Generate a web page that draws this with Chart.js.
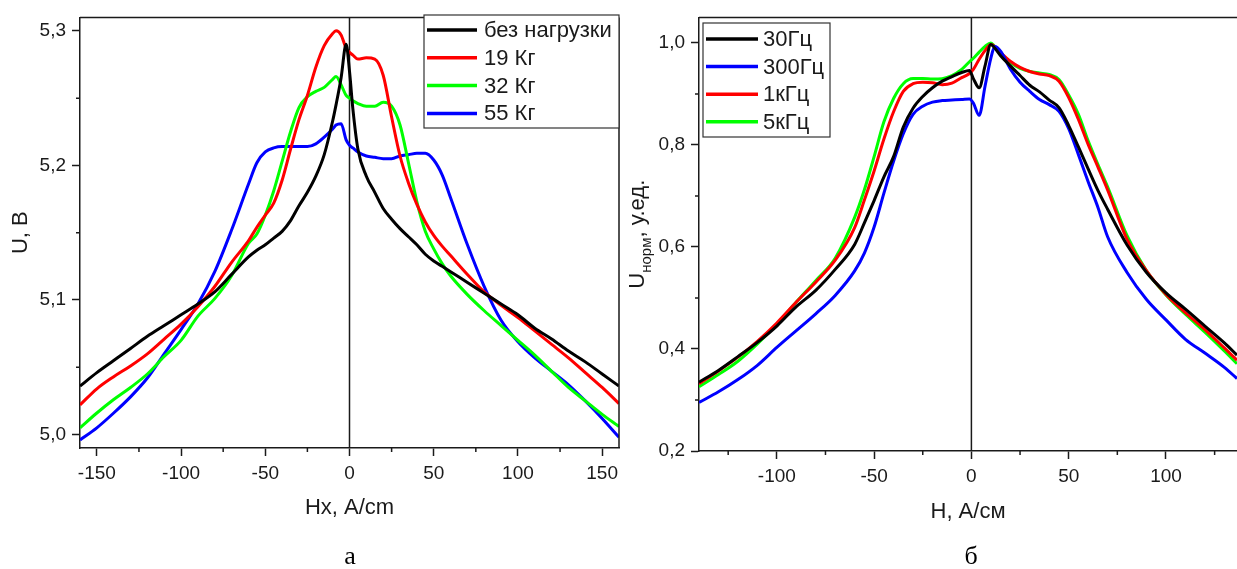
<!DOCTYPE html>
<html>
<head>
<meta charset="utf-8">
<script src="https://cdn.jsdelivr.net/npm/chart.js@4.4.1/dist/chart.umd.min.js"></script>
<style>
  html, body { margin: 0; padding: 0; background: #fff; }
  body { width: 1237px; height: 569px; position: relative; overflow: hidden; }
  .panel { position: absolute; top: 0; }
  #left { left: 0; }
  #right { left: 620px; }
  .caption { position: absolute; font-family: "Liberation Serif", "Times New Roman", serif; font-size: 26px; color: #000; transform: translate(-50%, -50%); }
</style>
</head>
<body>
<div class="panel" id="left"><canvas id="chartA" width="640" height="569"></canvas></div>
<div class="panel" id="right"><canvas id="chartB" width="617" height="569"></canvas></div>
<div class="caption" style="left:350px; top:556px;">а</div>
<div class="caption" style="left:971px; top:556px;">б</div>
<script>
// --- панель а: U(Hx) при разной нагрузке ---
const hxLoad = [-160, -150, -140, -130, -120, -110, -100, -90, -80, -70, -60,
  -55, -50, -45, -40, -35, -30, -25, -20, -15, -10,
  -8, -5, -2, 0, 2,
  5, 10, 15, 20, 25, 30, 35, 40, 45, 50, 55, 60,
  70, 80, 90, 100, 110, 120, 130, 140, 150, 160];
const loadLabels = ['без нагрузки', '19 Кг', '32 Кг', '55 Кг'];
const uNoLoad = [5.036, 5.046, 5.055, 5.064, 5.073, 5.081, 5.089, 5.097, 5.106, 5.119, 5.132,
  5.137, 5.141, 5.146, 5.151, 5.159, 5.170, 5.180, 5.192, 5.208, 5.233,
  5.245, 5.265, 5.290, 5.270, 5.242,
  5.212, 5.192, 5.180, 5.168, 5.160, 5.153, 5.147, 5.141, 5.134, 5.129, 5.125, 5.121,
  5.113, 5.105, 5.097, 5.089, 5.079, 5.071, 5.062, 5.054, 5.045, 5.036];
const u19 = [5.022, 5.034, 5.043, 5.051, 5.060, 5.071, 5.082, 5.095, 5.110, 5.128, 5.144,
  5.154, 5.163, 5.172, 5.189, 5.212, 5.234, 5.252, 5.273, 5.289, 5.298,
  5.300, 5.297, 5.287, 5.284, 5.282,
  5.279, 5.280, 5.279, 5.267, 5.236, 5.207, 5.187, 5.171, 5.158, 5.148, 5.140, 5.133,
  5.119, 5.106, 5.096, 5.087, 5.077, 5.067, 5.057, 5.046, 5.035, 5.023];
const u32 = [5.005, 5.016, 5.026, 5.035, 5.045, 5.058, 5.070, 5.088, 5.101, 5.118, 5.142,
  5.149, 5.163, 5.181, 5.203, 5.225, 5.243, 5.251, 5.255, 5.258, 5.264,
  5.266, 5.260, 5.252, 5.250, 5.248,
  5.246, 5.244, 5.244, 5.247, 5.244, 5.230, 5.202, 5.173, 5.151, 5.138, 5.127, 5.118,
  5.104, 5.092, 5.081, 5.070, 5.059, 5.047, 5.035, 5.025, 5.015, 5.006];
const u55 = [4.996, 5.005, 5.016, 5.028, 5.042, 5.060, 5.078, 5.097, 5.121, 5.152, 5.186,
  5.202, 5.210, 5.213, 5.214, 5.214, 5.214, 5.214, 5.216, 5.221, 5.227,
  5.230, 5.231, 5.219, 5.215, 5.213,
  5.210, 5.207, 5.206, 5.205, 5.205, 5.207, 5.208, 5.209, 5.209, 5.204, 5.193, 5.176,
  5.141, 5.110, 5.085, 5.069, 5.057, 5.047, 5.037, 5.025, 5.012, 4.998];

// --- панель б: нормированный сигнал при разной частоте ---
const hFreq = [-140, -130, -120, -110, -100, -90, -80, -70, -60,
  -55, -50, -45, -40, -35, -30, -25, -20, -15, -10, -5,
  -1, 1, 4, 7, 10, 12, 15,
  20, 25, 30, 35, 40, 45, 50, 55, 60, 65, 70,
  80, 90, 100, 110, 120, 130, 136.5];
const freqLabels = ['30Гц', '300Гц', '1кГц', '5кГц'];
const u30Hz = [0.335, 0.358, 0.385, 0.413, 0.445, 0.483, 0.515, 0.556, 0.605,
  0.647, 0.691, 0.737, 0.777, 0.835, 0.872, 0.895, 0.912, 0.925, 0.934, 0.942,
  0.946, 0.930, 0.912, 0.955, 0.997, 0.990, 0.975,
  0.955, 0.936, 0.917, 0.904, 0.888, 0.873, 0.838, 0.796, 0.753, 0.711, 0.674,
  0.604, 0.550, 0.510, 0.478, 0.445, 0.412, 0.388];
const u300Hz = [0.295, 0.316, 0.340, 0.368, 0.403, 0.436, 0.469, 0.505, 0.553,
  0.588, 0.639, 0.705, 0.768, 0.822, 0.860, 0.876, 0.884, 0.887, 0.888, 0.889,
  0.890, 0.882, 0.858, 0.915, 0.970, 0.993, 0.984,
  0.949, 0.923, 0.905, 0.889, 0.879, 0.866, 0.832, 0.781, 0.728, 0.678, 0.620,
  0.550, 0.497, 0.457, 0.419, 0.392, 0.364, 0.342];
const u1kHz = [0.332, 0.357, 0.384, 0.415, 0.451, 0.492, 0.531, 0.574, 0.638,
  0.692, 0.749, 0.811, 0.865, 0.905, 0.920, 0.923, 0.922, 0.918, 0.921, 0.932,
  0.940, 0.948, 0.968, 0.985, 0.997, 0.993, 0.981,
  0.964, 0.952, 0.944, 0.939, 0.936, 0.925, 0.893, 0.850, 0.801, 0.757, 0.712,
  0.615, 0.553, 0.507, 0.471, 0.438, 0.402, 0.378];
const u5kHz = [0.326, 0.350, 0.376, 0.410, 0.449, 0.492, 0.534, 0.578, 0.658,
  0.712, 0.777, 0.845, 0.891, 0.920, 0.930, 0.930, 0.929, 0.930, 0.936, 0.948,
  0.963, 0.970, 0.982, 0.993, 1.000, 0.993, 0.980,
  0.962, 0.950, 0.944, 0.941, 0.938, 0.928, 0.898, 0.860, 0.808, 0.762, 0.718,
  0.622, 0.553, 0.506, 0.468, 0.433, 0.396, 0.371];

const FONT = '"Liberation Sans", Arial, sans-serif';
const INK = '#1a1a1a';
Chart.defaults.font.family = FONT;
Chart.defaults.color = INK;

function isMult(v, step) { return Math.abs(v / step - Math.round(v / step)) < 1e-6; }
function comma(v) { return v.toFixed(1).replace('.', ','); }
function pts(xs, ys) { return xs.map((x, i) => ({ x: x, y: ys[i] })); }

function series(label, color, xs, ys) {
  return {
    label: label, data: pts(xs, ys), borderColor: color, borderWidth: 3,
    pointRadius: 0, fill: false, cubicInterpolationMode: 'monotone'
  };
}

// рамка, нулевая линия и мелкие засечки
const framePlugin = {
  id: 'frame',
  beforeDatasetsDraw(chart) {
    const { ctx, chartArea: a, scales } = chart;
    const x0 = scales.x.getPixelForValue(0);
    ctx.save();
    ctx.strokeStyle = INK; ctx.lineWidth = 1.5;
    ctx.beginPath(); ctx.moveTo(x0, a.top); ctx.lineTo(x0, a.bottom); ctx.stroke();
    ctx.restore();
  },
  afterDraw(chart, args, o) {
    const { ctx, chartArea: a, scales } = chart;
    ctx.save();
    ctx.strokeStyle = INK; ctx.lineWidth = 1.5;
    ctx.beginPath();
    ctx.moveTo(a.left, a.top); ctx.lineTo(a.right, a.top);
    if (o.right) { ctx.moveTo(a.right, a.top); ctx.lineTo(a.right, a.bottom); }
    scales.x.ticks.forEach(t => {
      if (isMult(t.value, o.xMajor)) return;
      const p = scales.x.getPixelForValue(t.value);
      ctx.moveTo(p, a.bottom); ctx.lineTo(p, a.bottom + 4);
    });
    scales.y.ticks.forEach(t => {
      if (isMult(t.value, o.yMajor)) return;
      const p = scales.y.getPixelForValue(t.value);
      ctx.moveTo(a.left, p); ctx.lineTo(a.left - 4, p);
    });
    ctx.stroke();
    ctx.restore();
  }
};

// легенда в рамке внутри графика
const legendBox = {
  id: 'legendBox',
  afterDraw(chart, args, o) {
    const ctx = chart.ctx;
    ctx.save();
    ctx.fillStyle = '#fff';
    ctx.fillRect(o.x, o.y, o.w, o.h);
    ctx.strokeStyle = '#333'; ctx.lineWidth = 1.2;
    ctx.strokeRect(o.x, o.y, o.w, o.h);
    ctx.font = '22px ' + FONT;
    ctx.textBaseline = 'middle';
    chart.data.datasets.forEach((ds, i) => {
      const yy = o.y0 + i * o.dy;
      ctx.strokeStyle = ds.borderColor; ctx.lineWidth = 3.5;
      ctx.beginPath(); ctx.moveTo(o.x + 3, yy); ctx.lineTo(o.x + o.len, yy); ctx.stroke();
      ctx.fillStyle = INK;
      ctx.fillText(ds.label, o.x + o.tx, yy + 1);
    });
    ctx.restore();
  }
};

// подпись оси Y с нижним индексом
const subTitle = {
  id: 'subTitle',
  afterDraw(chart, args, o) {
    if (!o.main) return;
    const { ctx, chartArea: a } = chart;
    const big = '22px ' + FONT, small = '15px ' + FONT;
    ctx.save();
    ctx.translate(o.x, (a.top + a.bottom) / 2);
    ctx.rotate(-Math.PI / 2);
    ctx.fillStyle = INK;
    ctx.font = big;
    const w1 = ctx.measureText(o.main).width, w3 = ctx.measureText(o.rest).width;
    ctx.font = small;
    const w2 = ctx.measureText(o.sub).width;
    let x = -(w1 + w2 + w3) / 2;
    ctx.font = big; ctx.fillText(o.main, x, 0); x += w1;
    ctx.font = small; ctx.fillText(o.sub, x, 7); x += w2;
    ctx.font = big; ctx.fillText(o.rest, x, 0);
    ctx.restore();
  }
};

function axis(min, max, step, major, fmt, fit, title) {
  return {
    type: 'linear', min: min, max: max,
    border: { display: true, color: INK, width: 1.5 },
    grid: {
      drawOnChartArea: false, tickLength: 8, tickWidth: 1.5,
      tickColor: c => (c.tick && isMult(c.tick.value, major)) ? INK : 'rgba(0,0,0,0)'
    },
    ticks: {
      stepSize: step, includeBounds: false, autoSkip: false, maxRotation: 0,
      padding: 6, font: { size: 19 },
      callback: v => isMult(v, major) ? fmt(v) : ''
    },
    title: title,
    afterFit: fit
  };
}

new Chart(document.getElementById('chartA'), {
  type: 'line',
  data: {
    datasets: [
      series(loadLabels[0], '#000000', hxLoad, uNoLoad),
      series(loadLabels[1], '#ff0000', hxLoad, u19),
      series(loadLabels[2], '#00ff00', hxLoad, u32),
      series(loadLabels[3], '#0000ff', hxLoad, u55)
    ]
  },
  options: {
    responsive: false, animation: false,
    layout: { padding: { top: 15, right: 21, left: 0, bottom: 0 } },
    plugins: {
      legend: { display: false }, tooltip: { enabled: false },
      frame: { right: true, xMajor: 50, yMajor: 0.1 },
      legendBox: { x: 424, y: 15, w: 195, h: 113, y0: 30, dy: 27.8, len: 53, tx: 60 },
      subTitle: {}
    },
    scales: {
      x: axis(-160, 160, 25, 50, v => String(v), s => { s.height = 121; },
        { display: true, text: 'Hx, A/cm', font: { size: 22 }, padding: { top: 0, bottom: 48 } }),
      y: axis(4.99, 5.31, 0.05, 0.1, comma, s => { s.width = 80; },
        { display: true, text: 'U, В', font: { size: 22 }, padding: { top: 8, bottom: 0 } })
    }
  },
  plugins: [framePlugin, legendBox, subTitle]
});

new Chart(document.getElementById('chartB'), {
  type: 'line',
  data: {
    datasets: [
      series(freqLabels[0], '#000000', hFreq, u30Hz),
      series(freqLabels[1], '#0000ff', hFreq, u300Hz),
      series(freqLabels[2], '#ff0000', hFreq, u1kHz),
      series(freqLabels[3], '#00ff00', hFreq, u5kHz)
    ]
  },
  options: {
    responsive: false, animation: false,
    layout: { padding: { top: 15, right: 0, left: 0, bottom: 0 } },
    plugins: {
      legend: { display: false }, tooltip: { enabled: false },
      frame: { right: false, xMajor: 50, yMajor: 0.2 },
      legendBox: { x: 83, y: 23, w: 127, h: 114, y0: 39, dy: 27.6, len: 55, tx: 60 },
      subTitle: { x: 24, main: 'U', sub: 'норм', rest: ', у.ед.' }
    },
    scales: {
      x: axis(-140, 136.5, 25, 50, v => String(v), s => { s.height = 118; },
        { display: true, text: 'H, А/см', font: { size: 22 }, padding: { top: 0, bottom: 44 } }),
      y: axis(0.2, 1.05, 0.1, 0.2, comma, s => { s.width = 79; }, { display: false })
    }
  },
  plugins: [framePlugin, legendBox, subTitle]
});
</script>
</body>
</html>
